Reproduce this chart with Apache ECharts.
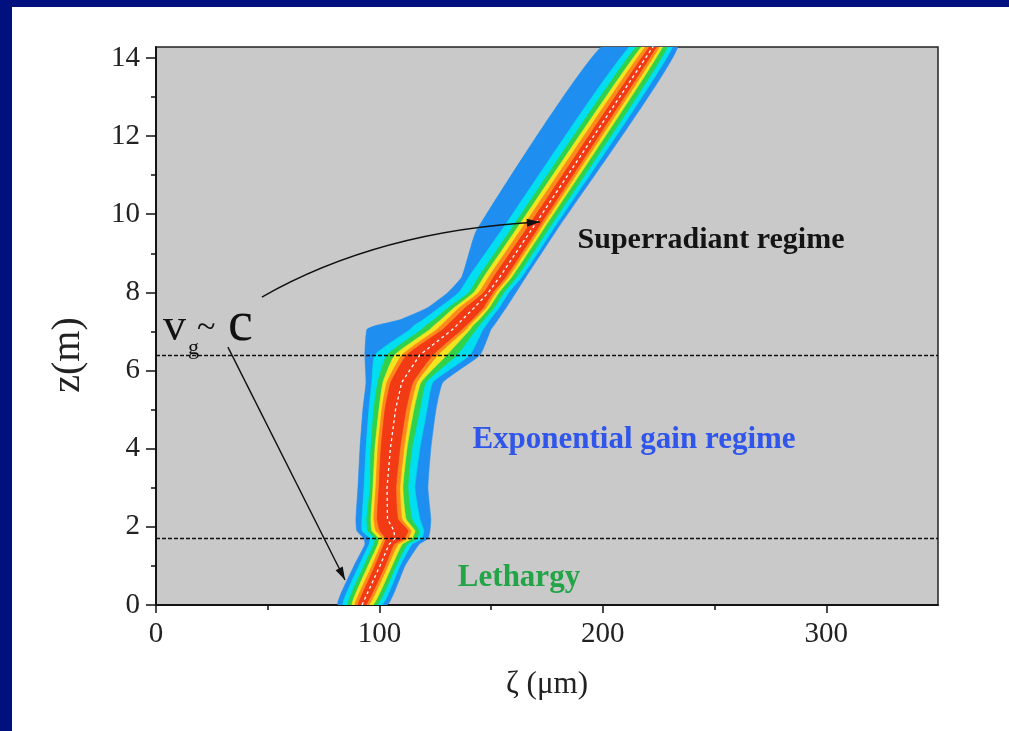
<!DOCTYPE html>
<html><head><meta charset="utf-8">
<script src="https://cdn.jsdelivr.net/npm/echarts@6/dist/echarts.min.js"></script>
<style>html,body{margin:0;padding:0;background:#fff;}#c{width:1009px;height:731px;}</style>
</head><body><div id="c"></div>
<script>
// z levels (m) at which contour boundaries are read
const zLevels = [0, 1.0, 1.55, 1.7, 1.9, 2.2, 3.0, 4.0, 5.0, 5.7, 6.4, 7.05, 7.15, 7.3, 7.6, 8.0, 8.4, 9.6, 14.3];
// left / right boundaries (zeta, um) of each contour level
const blueL   = [81.4, 88.6, 93.5, 93.1, 89.9, 89.5, 90.4, 91.3, 92.6, 94.0, 93.5, 94.4, 98.4, 109.2, 121.3, 130.7, 136.9, 143.6, 199.6];
const cyanL   = [83.7, 90.8, 95.3, 95.8, 92.2, 92.2, 93.1, 94.0, 95.3, 96.6, 98.0, 113.7, 115.4, 119.5, 126.6, 135.6, 140.1, 154.8, 212.1];
const greenL  = [85.9, 93.1, 97.5, 98.0, 94.9, 94.4, 95.8, 96.2, 97.5, 99.3, 103.4, 119.0, 120.8, 124.4, 130.7, 140.1, 144.5, 158.8, 215.2];
const yellowL = [87.7, 94.9, 99.3, 99.8, 96.6, 96.2, 97.1, 98.0, 99.8, 101.6, 106.9, 122.6, 124.4, 127.5, 133.3, 142.3, 146.8, 161.1, 217.5];
const orangeL = [89.0, 96.6, 100.7, 101.6, 98.4, 97.5, 98.4, 99.3, 101.1, 103.4, 110.1, 125.7, 127.5, 130.2, 135.6, 144.5, 149.0, 163.3, 219.2];
const redL    = [90.4, 98.0, 102.0, 102.9, 100.2, 99.0, 99.8, 100.7, 102.5, 105.1, 112.3, 128.4, 130.2, 132.9, 138.3, 146.8, 151.2, 165.6, 221.0];
const redR    = [94.0, 102.5, 106.5, 111.0, 112.8, 108.3, 107.4, 109.2, 111.9, 115.0, 123.9, 136.9, 138.7, 141.4, 146.3, 150.8, 156.6, 170.5, 224.2];
const orangeR = [95.3, 103.8, 108.3, 112.8, 114.1, 110.1, 109.2, 111.0, 113.7, 116.8, 126.2, 138.7, 140.1, 142.7, 147.7, 152.1, 157.9, 171.8, 225.5];
const yellowR = [97.1, 105.6, 110.1, 114.5, 115.9, 111.9, 110.5, 112.3, 115.4, 118.6, 130.2, 140.5, 141.8, 144.5, 149.0, 153.5, 159.3, 173.2, 226.9];
const greenR  = [98.9, 107.4, 112.3, 116.8, 117.7, 114.5, 112.8, 114.5, 118.1, 120.8, 134.7, 143.2, 144.5, 146.8, 151.2, 155.7, 161.5, 175.4, 229.1];
const cyanR   = [101.1, 109.2, 114.5, 119.0, 119.9, 118.1, 115.9, 118.1, 121.3, 123.9, 140.5, 146.3, 147.7, 149.4, 153.5, 157.9, 163.8, 177.6, 231.3];
const blueR   = [103.4, 111.4, 117.7, 121.7, 122.6, 123.0, 121.7, 123.0, 125.3, 128.4, 145.0, 149.9, 151.2, 153.0, 156.6, 161.1, 165.6, 179.4, 233.6];
// centre of the pulse (white dashed line)
const centerZeta = [92.2, 100.2, 104.3, 106.9, 106.5, 103.6, 103.4, 104.9, 107.2, 110.0, 118.1, 132.7, 134.5, 137.0, 142.3, 148.8, 153.9, 168.0, 222.6];
// regime boundaries (m)
const regimeLevels = [6.4, 1.7];
// axis ticks
const xTicks = [0, 100, 200, 300];
const xMinorTicks = [50, 150, 250];
const yTicks = [0, 2, 4, 6, 8, 10, 12, 14];
const yMinorTicks = [1, 3, 5, 7, 9, 11, 13];
// arrows: [zeta, z] start, (control), end
const arrowCurved = [[47.4, 7.88], [99.8, 9.59], [171.8, 9.80]];
const arrowStraight = [[32.2, 6.60], [84.6, 0.64]];
const arrows = [arrowCurved, arrowStraight];

const layers = [
  {color: '#1e8ff0', L: blueL, R: blueR},
  {color: '#00def0', L: cyanL, R: cyanR},
  {color: '#2fd24a', L: greenL, R: greenR},
  {color: '#f2e420', L: yellowL, R: yellowR},
  {color: '#ff8a1c', L: orangeL, R: orangeR},
  {color: '#f23a14', L: redL, R: redR}
];

const serif = '"Liberation Serif", "Times New Roman", serif';
const chart = echarts.init(document.getElementById('c'), null, {renderer: 'canvas'});

const axisCommon = {
  axisLine: {show: true, lineStyle: {color: '#111', width: 1.5}},
  splitLine: {show: false}
};

chart.setOption({
  animation: false,
  backgroundColor: '#fff',
  grid: {left: 156, right: 71, top: 47, bottom: 126, show: true, backgroundColor: '#c9c9c9', borderColor: '#222', borderWidth: 1.5},
  xAxis: [
    Object.assign({}, axisCommon, {
      type: 'value', min: 0, max: 350, position: 'bottom',
      name: 'ζ (μm)', nameLocation: 'middle', nameGap: 64,
      nameTextStyle: {fontFamily: serif, fontSize: 31, color: '#222'},
      axisTick: {show: true, length: 8, customValues: xTicks, lineStyle: {color: '#111', width: 1.5}},
      axisLabel: {customValues: xTicks, fontFamily: serif, fontSize: 29, color: '#222', margin: 15}
    }),
    Object.assign({}, axisCommon, {
      type: 'value', min: 0, max: 350, position: 'bottom',
      axisTick: {show: true, length: 5, customValues: xMinorTicks, lineStyle: {color: '#111', width: 1.5}},
      axisLabel: {show: false}
    })
  ],
  yAxis: [
    Object.assign({}, axisCommon, {
      type: 'value', min: 0, max: 14.28, position: 'left',
      axisTick: {show: true, length: 10, customValues: yTicks, lineStyle: {color: '#111', width: 1.5}},
      axisLabel: {customValues: yTicks, fontFamily: serif, fontSize: 29, color: '#222', margin: 16}
    }),
    Object.assign({}, axisCommon, {
      type: 'value', min: 0, max: 14.28, position: 'left',
      axisTick: {show: true, length: 5, customValues: yMinorTicks, lineStyle: {color: '#111', width: 1.5}},
      axisLabel: {show: false}
    })
  ],
  graphic: [
    {type: 'rect', left: 0, top: 0, z: 100, shape: {width: 1009, height: 7}, style: {fill: '#00107f'}},
    {type: 'rect', left: 0, top: 0, z: 100, shape: {width: 12, height: 731}, style: {fill: '#00107f'}},
    {type: 'text', x: 68, y: 355, rotation: Math.PI / 2, z: 100, style: {text: 'z(m)', font: '40px ' + serif, fill: '#222', align: 'center', verticalAlign: 'middle'}},
    {type: 'text', x: 711, y: 240, z: 100, style: {text: 'Superradiant regime', font: 'bold 30px ' + serif, fill: '#141414', align: 'center', verticalAlign: 'middle'}},
    {type: 'text', x: 634, y: 440, z: 100, style: {text: 'Exponential gain regime', font: 'bold 31px ' + serif, fill: '#2f55ea', align: 'center', verticalAlign: 'middle'}},
    {type: 'text', x: 519, y: 578, z: 100, style: {text: 'Lethargy', font: 'bold 31px ' + serif, fill: '#22a447', align: 'center', verticalAlign: 'middle'}},
    {type: 'text', x: 163, y: 328, z: 100, style: {text: 'v', font: '46px ' + serif, fill: '#111', align: 'left', verticalAlign: 'middle'}},
    {type: 'text', x: 188, y: 348, z: 100, style: {text: 'g', font: '22px ' + serif, fill: '#111', align: 'left', verticalAlign: 'middle'}},
    {type: 'text', x: 197, y: 328, z: 100, style: {text: '~', font: '34px ' + serif, fill: '#111', align: 'left', verticalAlign: 'middle'}},
    {type: 'text', x: 228, y: 325, z: 100, style: {text: 'c', font: '56px ' + serif, fill: '#111', align: 'left', verticalAlign: 'middle'}}
  ],
  series: [
    {
      type: 'custom', coordinateSystem: 'cartesian2d', xAxisIndex: 0, yAxisIndex: 0, clip: true, silent: true, z: 2,
      data: layers.map((l, i) => [i]),
      renderItem: function (params, api) {
        const ly = layers[params.dataIndex];
        const pts = [];
        for (let k = 0; k < zLevels.length; k++) pts.push(api.coord([ly.L[k], zLevels[k]]));
        for (let k = zLevels.length - 1; k >= 0; k--) pts.push(api.coord([ly.R[k], zLevels[k]]));
        return {type: 'polygon', shape: {points: pts, smooth: 0.15}, style: {fill: ly.color, stroke: ly.color, lineWidth: 0.6}};
      }
    },
    {
      type: 'line', xAxisIndex: 0, yAxisIndex: 0, z: 3, silent: true, symbol: 'none',
      data: centerZeta.map((v, i) => [v, zLevels[i]]),
      lineStyle: {color: '#ffffff', width: 1.3, type: [3, 3]},
      markLine: {
        silent: true, symbol: ['none', 'none'], animation: false,
        label: {show: false},
        lineStyle: {color: '#111', width: 1.3, type: [4, 2]},
        data: regimeLevels.map(v => ({yAxis: v}))
      }
    },
    {
      type: 'custom', coordinateSystem: 'cartesian2d', xAxisIndex: 0, yAxisIndex: 0, silent: true, z: 5,
      data: arrows.map((a, i) => [i]),
      renderItem: function (params, api) {
        const a = arrows[params.dataIndex];
        const p = a.map(q => api.coord(q));
        const end = p[p.length - 1];
        const prev = p[p.length - 2];
        const children = [];
        if (p.length === 3) {
          children.push({type: 'bezierCurve', shape: {x1: p[0][0], y1: p[0][1], cpx1: p[1][0], cpy1: p[1][1], x2: end[0], y2: end[1]}, style: {stroke: '#111', lineWidth: 1.4, fill: null}});
        } else {
          children.push({type: 'line', shape: {x1: p[0][0], y1: p[0][1], x2: end[0], y2: end[1]}, style: {stroke: '#111', lineWidth: 1.4}});
        }
        const dx = end[0] - prev[0], dy = end[1] - prev[1];
        const len = Math.sqrt(dx * dx + dy * dy);
        const ux = dx / len, uy = dy / len;
        const hl = 13, hw = 4;
        const bx = end[0] - ux * hl, by = end[1] - uy * hl;
        children.push({type: 'polygon', shape: {points: [end, [bx - uy * hw, by + ux * hw], [bx + uy * hw, by - ux * hw]]}, style: {fill: '#111'}});
        return {type: 'group', children: children};
      }
    }
  ]
});
</script></body></html>
